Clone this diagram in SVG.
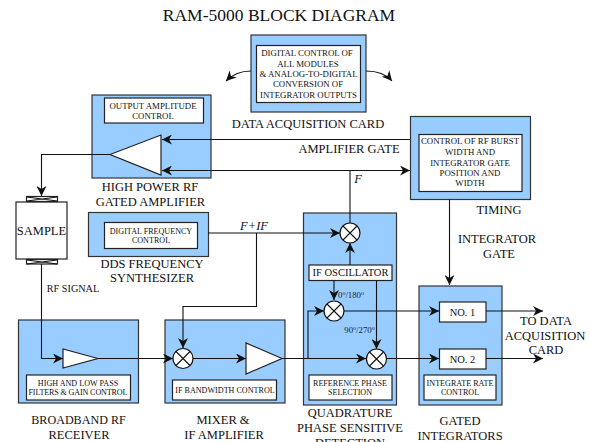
<svg xmlns="http://www.w3.org/2000/svg" width="590" height="442" viewBox="0 0 590 442">
<style>
text{font-family:"Liberation Serif","Times New Roman",serif;fill:#111;text-anchor:middle}
.t{font-size:17.5px}.l{font-size:12.5px}.s{font-size:8.8px}.n{font-size:8.1px}.m{font-size:10.5px}.d{font-size:8.8px;fill:#223}
.b{fill:#99ccff;stroke:#333;stroke-width:1.2}
.w{fill:#fff;stroke:#222;stroke-width:1.2}
.c{fill:none;stroke:#111;stroke-width:1.1}
.a{fill:none;stroke:#111;stroke-width:1.1;marker-end:url(#ah)}
.x{stroke:#111;stroke-width:1.1;fill:none}
</style>
<defs>
<marker id="ah" markerUnits="userSpaceOnUse" markerWidth="12" markerHeight="10" refX="10" refY="5" orient="auto"><path d="M0 0L10 5L0 10L3 5Z" fill="#111"/></marker>
<g id="mx"><circle r="10" fill="#fff" stroke="#111" stroke-width="1.2"/><path d="M-7-7L7 7M-7 7L7-7" class="x"/></g>
</defs>
<text class="t" x="279" y="20.500">RAM-5000 BLOCK DIAGRAM</text>

<g id="data-acquisition"><rect class="b" x="251" y="35" width="115" height="77"/><rect class="w" x="256.500" y="45.500" width="104" height="57"/>
<text class="s" x="307" y="56">DIGITAL CONTROL OF</text><text class="s" x="308" y="67">ALL MODULES</text><text class="s" x="308.500" y="77">&amp; ANALOG-TO-DIGITAL</text><text class="s" x="308" y="87">CONVERSION OF</text><text class="s" x="308.500" y="98">INTEGRATOR OUTPUTS</text>
<text class="l" x="308" y="128">DATA ACQUISITION CARD</text></g>

<g id="amplifier"><rect class="b" x="92" y="95" width="119" height="83"/><rect class="w" x="104.500" y="98" width="99" height="25"/>
<text class="s" x="153" y="109">OUTPUT AMPLITUDE</text><text class="s" x="153" y="119">CONTROL</text>
<path class="w" d="M110 154.500L161 135V175Z"/>
<text class="l" x="150" y="191">HIGH POWER RF</text><text class="l" x="150.500" y="206">GATED AMPLIFIER</text></g>

<g id="timing"><rect class="b" x="410.500" y="116.500" width="120" height="83"/><rect class="w" x="419" y="134.500" width="103" height="57"/>
<text class="s" x="470" y="144">CONTROL OF RF BURST</text><text class="s" x="470" y="155">WIDTH  AND</text><text class="s" x="470" y="166">INTEGRATOR GATE</text><text class="s" x="470" y="176">POSITION AND</text><text class="s" x="470" y="186">WIDTH</text>
<text class="l" x="499" y="214">TIMING</text></g>

<g id="sample"><rect class="w" x="16" y="202" width="51" height="57"/><rect class="w" x="26.500" y="196.500" width="31" height="5"/><path class="x" d="M27 197L57 201M27 201L57 197"/><rect class="w" x="26.500" y="259.500" width="31" height="4.500"/><path class="x" d="M27 260L57 264M27 264L57 260"/>
<text class="l" x="41.500" y="235">SAMPLE</text></g>

<g id="dds"><rect class="b" x="88.500" y="212.500" width="120" height="44"/><rect class="w" x="104.500" y="222.500" width="93" height="26"/>
<text class="n" x="151" y="234">DIGITAL  FREQUENCY</text><text class="n" x="151" y="243">CONTROL</text>
<text class="l" x="152" y="268">DDS FREQUENCY</text><text class="l" x="152" y="282">SYNTHESIZER</text></g>

<g id="receiver"><rect class="b" x="18.500" y="320" width="120" height="83"/><rect class="w" x="26.500" y="375" width="104" height="25"/>
<path class="w" d="M98 358.500L63 349V368Z"/>
<text class="n" x="78" y="386">HIGH AND LOW  PASS</text><text class="n" x="78" y="395" textLength="99">FILTERS &amp; GAIN CONTROL</text>
<text class="l" x="78.500" y="424" style="font-size:12.1px">BROADBAND RF</text><text class="l" x="79" y="439">RECEIVER</text></g>

<g id="mixer"><rect class="b" x="165" y="320" width="120" height="83"/><rect class="w" x="172.500" y="380" width="104" height="20"/>
<path class="w" d="M282 358.500L246 343V374Z"/>
<use href="#mx" x="183" y="358.500"/>
<text class="n" x="225" y="393">IF BANDWIDTH CONTROL</text>
<text class="l" x="223" y="424">MIXER &amp;</text><text class="l" x="224" y="439">IF AMPLIFIER</text></g>

<g id="quadrature"><rect class="b" x="303.500" y="213" width="93" height="192"/>
<rect class="w" x="309" y="265" width="83" height="15.500"/><text class="m" x="350.500" y="276">IF OSCILLATOR</text>
<rect class="w" x="309" y="375" width="83" height="25"/><text class="n" x="350" y="386">REFERENCE  PHASE</text><text class="n" x="350" y="395">SELECTION</text>
<text class="l" x="350" y="417">QUADRATURE</text><text class="l" x="350" y="432">PHASE SENSITIVE</text><text class="l" x="350" y="446.500">DETECTION</text></g>

<g id="integrators"><rect class="b" x="419" y="286" width="83" height="119"/>
<rect class="w" x="439.500" y="302" width="46.500" height="20"/><text class="m" x="462.500" y="316">NO. 1</text>
<rect class="w" x="439.500" y="349" width="46.500" height="20"/><text class="m" x="462.500" y="363">NO. 2</text>
<rect class="w" x="424" y="375" width="72" height="25"/><text class="n" x="460" y="386">INTEGRATE RATE</text><text class="n" x="460" y="395">CONTROL</text>
<text class="l" x="460" y="425">GATED</text><text class="l" x="460" y="440">INTEGRATORS</text></g>

<g id="connectors">
<path class="a" d="M251 71C240 71 233 74 226 81"/>
<path class="a" d="M366 71C378 71 386 74 392 81"/>
<path class="a" d="M410 139.500H162"/>
<path class="a" d="M350 170.500H162"/>
<path class="a" d="M350 170.500H410"/>
<path class="a" d="M110 154.500H41.500V196"/>
<path class="c" d="M350 170.500V223"/>
<path class="a" d="M208 233H340"/>
<path class="a" d="M256.500 233V306.500H183V348"/>
<path class="a" d="M41.500 264V358.500H63"/>
<path class="a" d="M98 358.500H173"/>
<path class="a" d="M193 358.500H246"/>
<path class="a" d="M282 358.500H366"/>
<path class="a" d="M350 265V243"/>
<path class="a" d="M334 280.500V300"/>
<path class="a" d="M376.500 280.500V349"/>
<path class="a" d="M308 358.500V311H324"/>
<path class="a" d="M344 311H439"/>
<path class="a" d="M386 358.500H439"/>
<path class="a" d="M486 311H543"/>
<path class="a" d="M486 358.500H543"/>
<path class="a" d="M449.500 199.500V285"/>
</g>
<use href="#mx" x="350" y="233"/><use href="#mx" x="334" y="311"/><use href="#mx" x="376.500" y="359"/>

<text class="d" x="351" y="298">0<tspan dy="-3" font-size="6">o</tspan><tspan dy="3">/180</tspan><tspan dy="-3" font-size="6">o</tspan></text>
<text class="d" x="359.500" y="333">90<tspan dy="-3" font-size="6">o</tspan><tspan dy="3">/270</tspan><tspan dy="-3" font-size="6">o</tspan></text>
<text class="l" x="349" y="153">AMPLIFIER GATE</text>
<text class="l" x="358" y="183" font-style="italic">F</text>
<text class="l" x="254" y="230" font-style="italic">F+IF</text>
<text class="s" x="73" y="292" style="font-size:10.2px">RF SIGNAL</text>
<text class="l" x="497" y="243">INTEGRATOR</text><text class="l" x="499" y="258">GATE</text>
<text class="l" x="546" y="325">TO DATA</text><text class="l" x="545" y="340">ACQUISITION</text><text class="l" x="546" y="354">CARD</text>
</svg>
